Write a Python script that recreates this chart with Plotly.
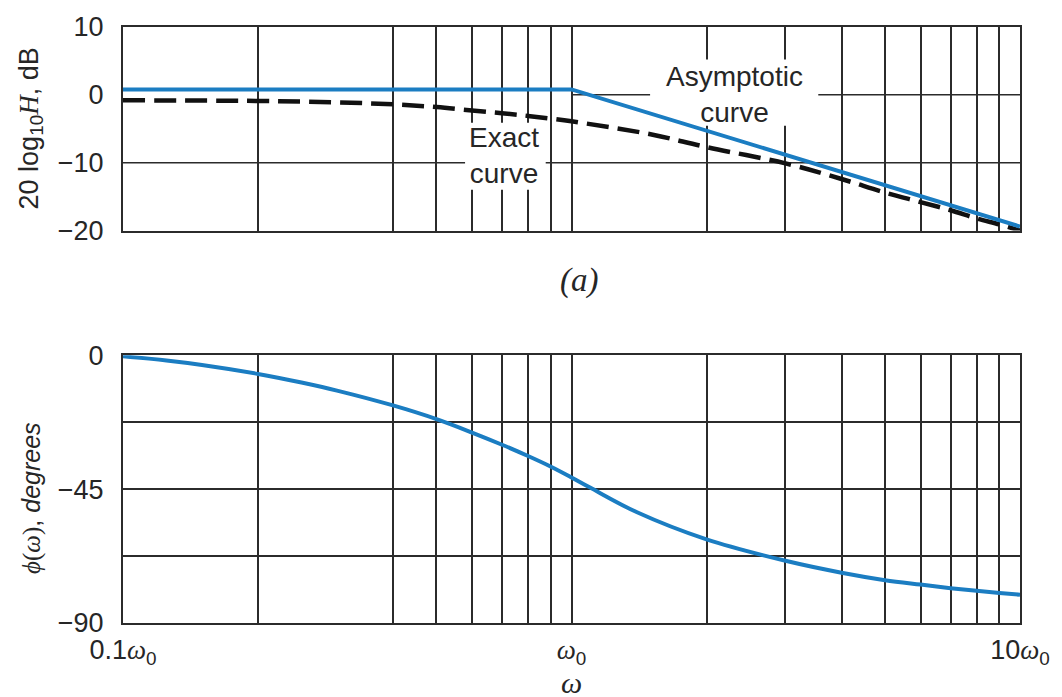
import plotly.graph_objects as go

# ---------------- data ----------------
omega_exact = [0.1, 0.2, 0.3, 0.4, 0.5, 0.6, 0.7, 0.8, 0.9, 1.0, 1.5, 2, 3, 4, 5, 6, 7, 8, 9, 10]
mag_exact_db = [-0.8, -0.9, -1.1, -1.4, -1.8, -2.3, -2.7, -3.1, -3.5, -3.9, -5.8, -7.7,
                -10.1, -12.4, -14.4, -15.8, -17.0, -18.2, -19.1, -20.0]

omega_asym = [0.1, 1.0, 10]
mag_asym_db = [0.8, 0.8, -19.4]

omega_phase = [0.1, 0.125, 0.15, 0.2, 0.25, 0.3, 0.4, 0.5, 0.6, 0.7, 0.8, 0.9, 1.0, 1.1, 1.4,
               2, 3, 4, 5, 6, 7, 8, 9, 10]
phase_deg = [-0.4, -1.8, -3.3, -6.3, -9.2, -11.9, -16.9, -21.5, -26.0, -30.1, -33.9, -37.5, -41.1,
             -44.5, -52.8, -61.9, -69.1, -73.1, -75.6, -77.1, -78.3, -79.2, -79.9, -80.5]

x_grid_vals = [0.1, 0.2, 0.4, 0.5, 0.6, 0.7, 0.8, 0.9, 1, 2, 3, 4, 5, 6, 7, 8, 9, 10]
x_label_vals = {0.1: "0.1", 1: "", 10: "10"}

mag_tick_vals = [10, 0, -10, -20]
mag_tick_text = ["10", "0", "\u221210", "\u221220"]
phase_tick_vals = [0, -22.5, -45, -67.5, -90]
phase_tick_text = ["0", "", "\u221245", "", "\u221290"]

# ---------------- styles ----------------
BLUE = "#1b7dc2"
GRID = "#2b2b2b"
TXT = "#262626"
SANS = "Liberation Sans"
SERIF = "Liberation Serif"


def omega_sym():
    return "<span style='font-family:%s'><i>\u03c9</i></span>" % SERIF


x_tick_text = []
for v in x_grid_vals:
    if v in x_label_vals:
        x_tick_text.append(x_label_vals[v] + omega_sym() + "<sub>0</sub>")
    else:
        x_tick_text.append("")

fig = go.Figure()

fig.add_trace(go.Scatter(x=omega_exact, y=mag_exact_db, mode="lines",
                         line=dict(color="#111111", width=4.5, dash="22px,9px", shape="spline"),
                         xaxis="x", yaxis="y", showlegend=False))
fig.add_trace(go.Scatter(x=omega_asym, y=mag_asym_db, mode="lines",
                         line=dict(color=BLUE, width=4),
                         xaxis="x", yaxis="y", showlegend=False))
fig.add_trace(go.Scatter(x=omega_phase, y=phase_deg, mode="lines",
                         line=dict(color=BLUE, width=4, shape="spline", smoothing=1.0),
                         xaxis="x2", yaxis="y2", showlegend=False))

axis_common = dict(showline=True, mirror=True, linecolor=GRID, linewidth=2,
                   gridcolor=GRID, gridwidth=1.5, zeroline=False, ticks="",
                   tickfont=dict(family=SANS, size=27, color=TXT))

fig.update_layout(
    width=1062, height=697,
    margin=dict(l=123, r=37, t=20, b=74),
    paper_bgcolor="white", plot_bgcolor="white",
    xaxis=dict(axis_common, type="log", range=[-1, 1], domain=[0, 1], anchor="y",
               tickvals=x_grid_vals, showticklabels=False, showgrid=True),
    yaxis=dict(axis_common, range=[-20, 10], domain=[0.6584, 1], anchor="x",
               tickvals=mag_tick_vals, ticktext=mag_tick_text, showgrid=False,
               ticklabelstandoff=12),
    xaxis2=dict(axis_common, type="log", range=[-1, 1], domain=[0, 1], anchor="y2",
                tickvals=x_grid_vals, ticktext=x_tick_text, showgrid=True,
                ticklabelstandoff=2),
    yaxis2=dict(axis_common, range=[-90, 0], domain=[0, 0.4494], anchor="x2",
                tickvals=phase_tick_vals, ticktext=phase_tick_text, showgrid=True,
                ticklabelstandoff=12),
)

# horizontal grid of the magnitude plot
fig.add_shape(type="line", xref="x", yref="y", x0=0.1, x1=10, y0=-10, y1=-10,
              line=dict(color=GRID, width=1.5), layer="below")
fig.add_shape(type="line", xref="x", yref="y", x0=1, x1=10, y0=0, y1=0,
              line=dict(color=GRID, width=1.5), layer="below")

# white label backgrounds (above grid, below curves)
fig.add_shape(type="rect", xref="x", yref="y", x0=1.497, x1=3.55, y0=-4.56, y1=5.2,
              fillcolor="white", line=dict(width=0), layer="between")
fig.add_shape(type="rect", xref="x", yref="y", x0=0.579, x1=0.876, y0=-14.0, y1=-4.12,
              fillcolor="white", line=dict(width=0), layer="between")

# labels
fig.add_annotation(xref="paper", yref="paper", x=0.6818, y=0.8864,
                   text="Asymptotic<br>curve", showarrow=False,
                   font=dict(family=SANS, size=28, color=TXT),
                   xanchor="center", yanchor="middle")
fig.add_annotation(xref="paper", yref="paper", x=0.4252, y=0.7852,
                   text="Exact<br>curve", showarrow=False,
                   font=dict(family=SANS, size=28, color=TXT),
                   xanchor="center", yanchor="middle")
fig.add_annotation(xref="paper", yref="paper", x=-0.1031, y=0.829, textangle=-90,
                   text="20 log<sub>10</sub><span style='font-family:%s'><i>H</i></span>, dB" % SERIF,
                   showarrow=False, font=dict(family=SANS, size=27, color=TXT),
                   xanchor="center", yanchor="middle")
fig.add_annotation(xref="paper", yref="paper", x=-0.1020, y=0.209, textangle=-90,
                   text="<span style='font-family:%s'><i>\u03d5</i>(<i>\u03c9</i>)</span>, <i>degrees</i>" % SERIF,
                   showarrow=False, font=dict(family=SANS, size=25, color=TXT),
                   xanchor="center", yanchor="middle")
fig.add_annotation(xref="paper", yref="paper", x=0.5, y=-0.1000,
                   text="<i>\u03c9</i>", showarrow=False,
                   font=dict(family=SERIF, size=30, color=TXT),
                   xanchor="center", yanchor="middle")
fig.add_annotation(xref="paper", yref="paper", x=0.5085, y=0.5755,
                   text="<i>(a)</i>", showarrow=False,
                   font=dict(family=SERIF, size=33, color=TXT),
                   xanchor="center", yanchor="middle")

fig.write_html("out.html")
